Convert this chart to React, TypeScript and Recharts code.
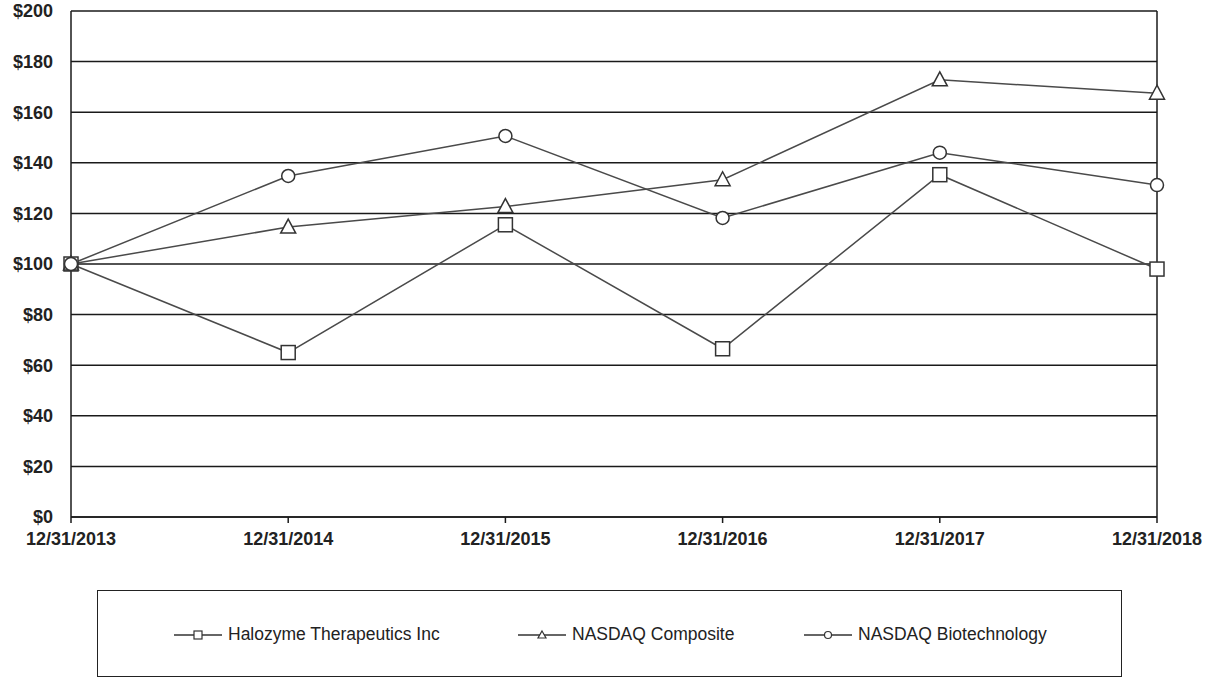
import React from "react";
import {
	LineChart,
	Line,
	XAxis,
	YAxis,
	CartesianGrid,
	ReferenceLine
} from "recharts";

const years = ["12/31/2013", "12/31/2014", "12/31/2015", "12/31/2016", "12/31/2017", "12/31/2018"];
const halozyme = [100, 65, 115.5, 66.5, 135.3, 98];
const nasdaqComposite = [100, 114.6, 122.7, 133.3, 172.8, 167.5];
const nasdaqBiotech = [100, 134.8, 150.6, 118.2, 144, 131.2];
const yTicks = [0, 20, 40, 60, 80, 100, 120, 140, 160, 180, 200];

const data = years.map((year, i) => ({
	year,
	halozyme: halozyme[i],
	composite: nasdaqComposite[i],
	biotech: nasdaqBiotech[i]
}));

const lineColor = "#4a4a4a";
const markStroke = "#333";

function SquareDot(props: any) {
	const { cx, cy } = props;
	if (cx == null || cy == null) return null;
	return <rect x={cx - 7} y={cy - 7} width={14} height={14} fill="#fff" stroke={markStroke} strokeWidth={1.5} />;
}

function TriangleDot(props: any) {
	const { cx, cy } = props;
	if (cx == null || cy == null) return null;
	return (
		<path
			d={`M${cx},${cy - 8} L${cx + 7.5},${cy + 6} L${cx - 7.5},${cy + 6} Z`}
			fill="#fff"
			stroke={markStroke}
			strokeWidth={1.5}
		/>
	);
}

function CircleDot(props: any) {
	const { cx, cy } = props;
	if (cx == null || cy == null) return null;
	return <circle cx={cx} cy={cy} r={6.5} fill="#fff" stroke={markStroke} strokeWidth={1.5} />;
}

function LegendIcon({ kind }: { kind: string }) {
	return (
		<svg width={48} height={12} style={{ marginRight: 6 }}>
			<line x1={0} y1={6} x2={48} y2={6} stroke="#333" strokeWidth={1.5} />
			{kind === "square" && <rect x={20} y={2} width={8} height={8} fill="#fff" stroke="#333" strokeWidth={1.2} />}
			{kind === "triangle" && <path d="M24,2 L28,9 L20,9 Z" fill="#fff" stroke="#333" strokeWidth={1.2} />}
			{kind === "circle" && <circle cx={24} cy={6} r={3.5} fill="#fff" stroke="#333" strokeWidth={1.2} />}
		</svg>
	);
}

const legendItems = [
	{ label: "Halozyme Therapeutics Inc", kind: "square", left: 76 },
	{ label: "NASDAQ Composite", kind: "triangle", left: 420 },
	{ label: "NASDAQ Biotechnology", kind: "circle", left: 706 }
];

const tickStyle = {
	fontFamily: "'Liberation Sans', Arial, sans-serif",
	fontWeight: 700,
	fontSize: 18,
	fill: "#222"
};

export default function App() {
	return (
		<div style={{ position: "absolute", left: 0, top: 0, width: 1216, height: 679, background: "#fff" }}>
			<LineChart
				width={1216}
				height={560}
				data={data}
				margin={{ top: 11, right: 59, left: 0, bottom: 13 }}
			>
				<CartesianGrid vertical={false} stroke="#1a1a1a" strokeWidth={1.5} />
				<XAxis
					dataKey="year"
					interval={0}
					height={30}
					tickSize={6}
					tickMargin={9}
					stroke="#1a1a1a"
					strokeWidth={1.5}
					tick={tickStyle}
				/>
				<YAxis
					domain={[0, 200]}
					ticks={yTicks}
					width={71}
					tickLine={false}
					tickSize={8}
					tickMargin={10}
					stroke="#1a1a1a"
					strokeWidth={1.5}
					tick={tickStyle}
					tickFormatter={(v: number) => `$${v}`}
				/>
				<ReferenceLine x="12/31/2018" stroke="#1a1a1a" strokeWidth={1.5} />
				<Line
					dataKey="halozyme"
					stroke={lineColor}
					strokeWidth={1.5}
					dot={<SquareDot />}
					activeDot={false}
					isAnimationActive={false}
				/>
				<Line
					dataKey="composite"
					stroke={lineColor}
					strokeWidth={1.5}
					dot={<TriangleDot />}
					activeDot={false}
					isAnimationActive={false}
				/>
				<Line
					dataKey="biotech"
					stroke={lineColor}
					strokeWidth={1.5}
					dot={<CircleDot />}
					activeDot={false}
					isAnimationActive={false}
				/>
			</LineChart>
			<div
				style={{
					position: "absolute",
					left: 97,
					top: 590,
					width: 1023,
					height: 85,
					border: "1.5px solid #222",
					fontFamily: "'Liberation Sans', Arial, sans-serif",
					fontSize: 17.5,
					color: "#222"
				}}
			>
				{legendItems.map((item) => (
					<div
						key={item.label}
						style={{
							position: "absolute",
							left: item.left,
							top: 33,
							display: "flex",
							alignItems: "center"
						}}
					>
						<LegendIcon kind={item.kind} />
						<span>{item.label}</span>
					</div>
				))}
			</div>
		</div>
	);
}
